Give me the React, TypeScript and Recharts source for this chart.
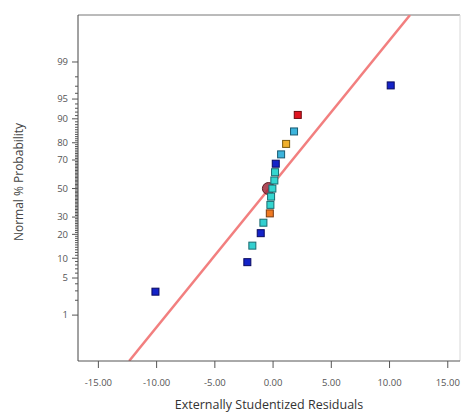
import { ScatterChart, Scatter, XAxis, YAxis, ReferenceLine } from "recharts";

// externally studentized residuals, in rank order
const residuals = [-10.1, -2.21, -1.78, -1.06, -0.83, -0.28, -0.23, -0.17, -0.06, 0.11, 0.17, 0.23, 0.69, 1.12, 1.8, 2.12, 10.1];
// normal % probability of each ranked residual
const probabilities = [2.9, 8.8, 14.7, 20.6, 26.5, 32.4, 38.2, 44.1, 50, 55.9, 61.8, 67.6, 73.5, 79.4, 85.3, 91.2, 97.1];
const pointColors = [
  "#1423c8", "#1423c8", "#33d0d0", "#1423c8", "#33d0d0", "#f07a22", "#33d6d0", "#33d6d0", "#33d6d0",
  "#33d6d0", "#33d6d0", "#1423c8", "#3cb4dc", "#f0b02c", "#3cb4dc", "#e01420", "#1423c8",
];
const pointStrokes = [
  "#0a0a60", "#0a0a60", "#1a6a70", "#0a0a60", "#1a6a70", "#7a3a10", "#1a6a70", "#1a6a70", "#1a6a70",
  "#1a6a70", "#1a6a70", "#0a0a60", "#1a5a70", "#7a5a10", "#1a5a70", "#700a10", "#0a0a60",
];

// highlighted point (circle)
const markedResidual = -0.4;
const markedProbability = 50;

// normal plot line endpoints (residual, z)
const fitX = [-12.36, 11.76];
const fitZ = [-3.17, 3.19];

const xTicks = [-15, -10, -5, 0, 5, 10, 15];
const xDomain = [-16.75, 16.05];
const zDomain = [-3.17, 3.19];
const majorTicks = [1, 5, 10, 20, 30, 50, 70, 80, 90, 95, 99];
const minorTicks = Array.from({ length: 97 }, (_, i) => i + 2).filter((p) => !majorTicks.includes(p));

// inverse normal cdf (Acklam)
function probit(p: number) {
  const a = [-39.69683028665376, 220.9460984245205, -275.9285104469687, 138.357751867269, -30.66479806614716, 2.506628277459239];
  const b = [-54.47609879822406, 161.5858368580409, -155.6989798598866, 66.80131188771972, -13.28068155288572];
  const c = [-0.007784894002430293, -0.3223964580411365, -2.400758277161838, -2.549732539343734, 4.374664141464968, 2.938163982698783];
  const d = [0.007784695709041462, 0.3224671290700398, 2.445134137142996, 3.754408661907416];
  const pl = 0.02425;
  if (p < pl) {
    const q = Math.sqrt(-2 * Math.log(p));
    return (((((c[0] * q + c[1]) * q + c[2]) * q + c[3]) * q + c[4]) * q + c[5]) / ((((d[0] * q + d[1]) * q + d[2]) * q + d[3]) * q + 1);
  }
  if (p <= 1 - pl) {
    const q = p - 0.5;
    const r = q * q;
    return ((((((a[0] * r + a[1]) * r + a[2]) * r + a[3]) * r + a[4]) * r + a[5]) * q) / (((((b[0] * r + b[1]) * r + b[2]) * r + b[3]) * r + b[4]) * r + 1);
  }
  const q = Math.sqrt(-2 * Math.log(1 - p));
  return -(((((c[0] * q + c[1]) * q + c[2]) * q + c[3]) * q + c[4]) * q + c[5]) / ((((d[0] * q + d[1]) * q + d[2]) * q + d[3]) * q + 1);
}

const points = residuals.map((x, i) => ({
  x,
  z: probit(probabilities[i] / 100),
  color: pointColors[i],
  edge: pointStrokes[i],
}));
const marked = [{ x: markedResidual, z: probit(markedProbability / 100) }];
const majorZ = majorTicks.map((p) => probit(p / 100));
const minorZ = minorTicks.map((p) => probit(p / 100));

const font = "'Open Sans', 'Noto Sans', sans-serif";

const SquareDot = (props: any) => {
  const { cx, cy, payload } = props;
  return <rect x={cx - 3.5} y={cy - 3.5} width={7} height={7} fill={payload.color} stroke={payload.edge} strokeWidth={1} />;
};

const CircleDot = (props: any) => {
  const { cx, cy } = props;
  return <circle cx={cx} cy={cy} r={6} fill="#a02a3c" fillOpacity={0.85} stroke="#5a1a22" strokeWidth={1} />;
};

// y title plus the axis line and probability ticks, placed in the axis box
const YAxisDecor = (props: any) => {
  const vb = props.viewBox || { x: 0, y: 15, width: 78, height: 346 };
  const ax = vb.x + vb.width;
  const toY = (z: number) => vb.y + ((zDomain[1] - z) / (zDomain[1] - zDomain[0])) * vb.height;
  const ticks = [
    ...majorZ.map((z) => `M${ax - 6},${toY(z)}H${ax}`),
    ...minorZ.map((z) => `M${ax - 3},${toY(z)}H${ax}`),
  ].join("");
  return (
    <g>
      <path d={`M${ax},${vb.y}V${vb.y + vb.height}`} stroke="#444" strokeWidth={1} fill="none" />
      <path d={ticks} stroke="#555" strokeWidth={1} fill="none" />
      <text x={20} y={182} transform="rotate(-90 20 182)" textAnchor="middle" dominantBaseline="middle" fontSize={12} fill="#444" fontFamily={font}>
        Normal % Probability
      </text>
    </g>
  );
};

export default function App() {
  return (
    <div style={{ position: "absolute", left: 0, top: 0, width: 464, height: 416, background: "#fff" }}>
      <ScatterChart width={464} height={416} margin={{ top: 15, right: 4, bottom: 0, left: 0 }}>
        <XAxis
          xAxisId="bottom"
          type="number"
          dataKey="x"
          domain={xDomain}
          ticks={xTicks}
          allowDataOverflow
          interval={0}
          height={55}
          stroke="#555"
          tickSize={7}
          tickMargin={11}
          tickFormatter={(v: number) => v.toFixed(2)}
          tick={{ fontSize: 9.5, fill: "#555", fontFamily: font }}
          label={{ value: "Externally Studentized Residuals", position: "insideBottom", offset: 7, fontSize: 12.5, fill: "#333", fontFamily: font }}
        />
        <YAxis
          yAxisId="main"
          type="number"
          dataKey="z"
          domain={zDomain}
          ticks={majorZ}
          allowDataOverflow
          interval={0}
          width={78}
          axisLine={false}
          tickLine={false}
          tickSize={6}
          tickMargin={4}
          tickFormatter={(v: number) => {
            const idx = majorZ.findIndex((t) => Math.abs(t - v) < 1e-6);
            return idx >= 0 ? String(majorTicks[idx]) : "";
          }}
          tick={{ fontSize: 9.5, fill: "#555", fontFamily: font }}
          label={<YAxisDecor />}
        />
        <ReferenceLine xAxisId="bottom" yAxisId="main" y={zDomain[1]} stroke="#777" strokeWidth={1} ifOverflow="visible" />
        <ReferenceLine xAxisId="bottom" yAxisId="main" x={xDomain[1]} stroke="#d8d8d8" strokeWidth={1} ifOverflow="visible" />
        <ReferenceLine
          xAxisId="bottom"
          yAxisId="main"
          segment={[
            { x: fitX[0], y: fitZ[0] },
            { x: fitX[1], y: fitZ[1] },
          ]}
          stroke="#f27f7f"
          strokeWidth={2.5}
          ifOverflow="hidden"
        />
        <Scatter xAxisId="bottom" yAxisId="main" data={marked} shape={<CircleDot />} isAnimationActive={false} />
        <Scatter xAxisId="bottom" yAxisId="main" data={points} shape={<SquareDot />} isAnimationActive={false} />
      </ScatterChart>
    </div>
  );
}
